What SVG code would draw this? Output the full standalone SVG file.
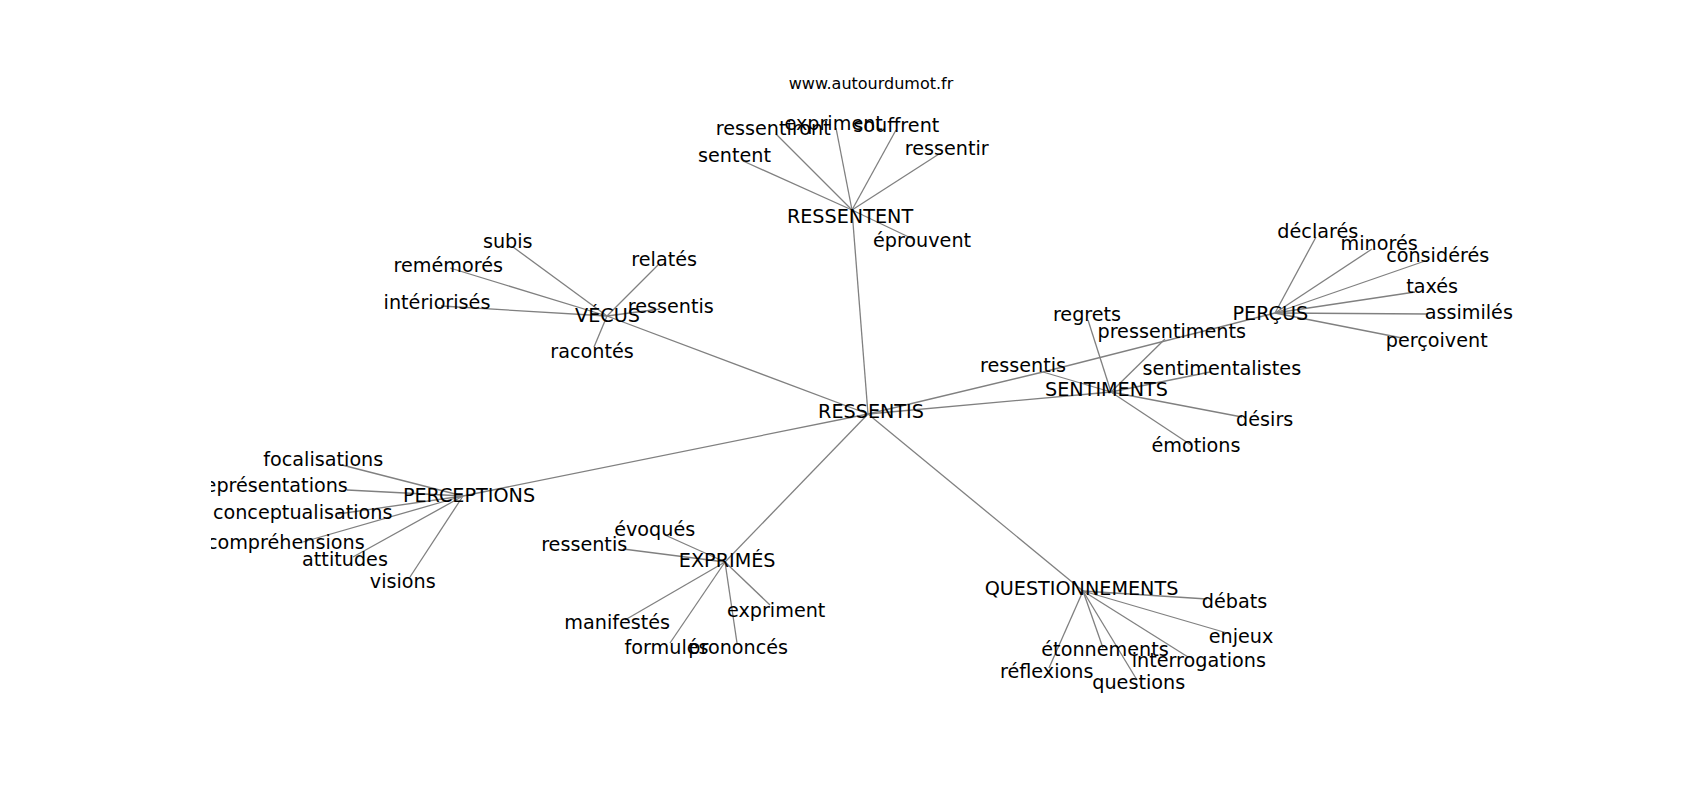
<svg xmlns="http://www.w3.org/2000/svg" width="1700" height="800" viewBox="0 0 1700 800">
<style>
.e{stroke:#808080;stroke-width:1.3;fill:none}
.t{font-family:"DejaVu Sans","Liberation Sans",sans-serif;font-size:19.2px;fill:#000;text-anchor:middle}
.ti{font-family:"DejaVu Sans","Liberation Sans",sans-serif;font-size:16px;fill:#000;text-anchor:middle}
</style>
<defs><clipPath id="ax"><rect x="211" y="0" width="1489" height="800"/></clipPath></defs>
<rect width="1700" height="800" fill="#fff"/>
<text class="ti" x="871" y="89">www.autourdumot.fr</text>
<g id="connectors">
<line class="e" x1="868" y1="414" x2="852" y2="210"/>
<line class="e" x1="868" y1="414" x2="607" y2="316"/>
<line class="e" x1="868" y1="414" x2="463" y2="496"/>
<line class="e" x1="868" y1="414" x2="725" y2="562"/>
<line class="e" x1="868" y1="414" x2="1083" y2="591"/>
<line class="e" x1="868" y1="414" x2="1111" y2="392"/>
<line class="e" x1="868" y1="414" x2="1043" y2="372"/>
<line class="e" x1="852" y1="210" x2="743" y2="161"/>
<line class="e" x1="852" y1="210" x2="776" y2="134"/>
<line class="e" x1="852" y1="210" x2="836" y2="128"/>
<line class="e" x1="852" y1="210" x2="896" y2="130"/>
<line class="e" x1="852" y1="210" x2="939" y2="154"/>
<line class="e" x1="852" y1="210" x2="915" y2="240"/>
<line class="e" x1="607" y1="316" x2="513" y2="247"/>
<line class="e" x1="607" y1="316" x2="450" y2="268"/>
<line class="e" x1="607" y1="316" x2="441" y2="306"/>
<line class="e" x1="607" y1="316" x2="594" y2="347"/>
<line class="e" x1="607" y1="316" x2="658" y2="265"/>
<line class="e" x1="607" y1="316" x2="660" y2="309"/>
<line class="e" x1="463" y1="496" x2="342" y2="465"/>
<line class="e" x1="463" y1="496" x2="347" y2="490"/>
<line class="e" x1="463" y1="496" x2="338" y2="514"/>
<line class="e" x1="463" y1="496" x2="303" y2="542"/>
<line class="e" x1="463" y1="496" x2="353" y2="557"/>
<line class="e" x1="463" y1="496" x2="410" y2="577"/>
<line class="e" x1="1111" y1="392" x2="1088" y2="320"/>
<line class="e" x1="1111" y1="392" x2="1165" y2="339"/>
<line class="e" x1="1111" y1="392" x2="1043" y2="372"/>
<line class="e" x1="1111" y1="392" x2="1210" y2="372"/>
<line class="e" x1="1111" y1="392" x2="1242" y2="417"/>
<line class="e" x1="1111" y1="392" x2="1191" y2="445"/>
<line class="e" x1="1275" y1="313" x2="1043" y2="372"/>
<line class="e" x1="1275" y1="313" x2="1316" y2="237"/>
<line class="e" x1="1275" y1="313" x2="1372" y2="249"/>
<line class="e" x1="1275" y1="313" x2="1425" y2="261"/>
<line class="e" x1="1275" y1="313" x2="1415" y2="292"/>
<line class="e" x1="1275" y1="313" x2="1428" y2="314"/>
<line class="e" x1="1275" y1="313" x2="1402" y2="338"/>
<line class="e" x1="725" y1="562" x2="665" y2="535"/>
<line class="e" x1="725" y1="562" x2="623" y2="549"/>
<line class="e" x1="725" y1="562" x2="625" y2="620"/>
<line class="e" x1="725" y1="562" x2="670" y2="643"/>
<line class="e" x1="725" y1="562" x2="737" y2="643"/>
<line class="e" x1="725" y1="562" x2="770" y2="605"/>
<line class="e" x1="1083" y1="591" x2="1207" y2="599"/>
<line class="e" x1="1083" y1="591" x2="1227" y2="633"/>
<line class="e" x1="1083" y1="591" x2="1188" y2="657"/>
<line class="e" x1="1083" y1="591" x2="1103" y2="648"/>
<line class="e" x1="1083" y1="591" x2="1049" y2="668"/>
<line class="e" x1="1083" y1="591" x2="1137" y2="680"/>
</g>
<g id="n-ressentis"><text class="t" x="871" y="418">RESSENTIS</text></g>
<g id="n-ressentent"><text class="t" x="850" y="222.5">RESSENTENT</text></g>
<g id="n-sentent"><text class="t" x="734.5" y="161.7">sentent</text></g>
<g id="n-ressentiront"><text class="t" x="773.3" y="135">ressentiront</text></g>
<g id="n-expriment-r"><text class="t" x="833.7" y="130">expriment</text></g>
<g id="n-souffrent"><text class="t" x="896.3" y="131.7">souffrent</text></g>
<g id="n-ressentir"><text class="t" x="946.7" y="155">ressentir</text></g>
<g id="n-eprouvent"><text class="t" x="922" y="246.7">éprouvent</text></g>
<g id="n-vecus"><text class="t" x="607.5" y="322">VÉCUS</text></g>
<g id="n-subis"><text class="t" x="507.8" y="248.3">subis</text></g>
<g id="n-rememores"><text class="t" x="448.3" y="272.3">remémorés</text></g>
<g id="n-interiorises"><text class="t" x="437" y="309">intériorisés</text></g>
<g id="n-racontes"><text class="t" x="592" y="358.3">racontés</text></g>
<g id="n-relates"><text class="t" x="664.2" y="266">relatés</text></g>
<g id="n-ressentis-v"><text class="t" x="670.8" y="312.7">ressentis</text></g>
<g id="n-perceptions"><text class="t" x="469" y="501.7">PERCEPTIONS</text></g>
<g id="n-focalisations"><text class="t" x="323.3" y="466">focalisations</text></g>
<g id="n-representations" clip-path="url(#ax)"><text class="t" x="272.5" y="491.7">représentations</text></g>
<g id="n-conceptualisations"><text class="t" x="302.7" y="519.3">conceptualisations</text></g>
<g id="n-comprehensions" clip-path="url(#ax)"><text class="t" x="285.8" y="549">compréhensions</text></g>
<g id="n-attitudes"><text class="t" x="345" y="565.7">attitudes</text></g>
<g id="n-visions"><text class="t" x="402.8" y="588.3">visions</text></g>
<g id="n-sentiments"><text class="t" x="1106.5" y="395.7">SENTIMENTS</text></g>
<g id="n-regrets"><text class="t" x="1087" y="320.7">regrets</text></g>
<g id="n-pressentiments"><text class="t" x="1171.7" y="337.7">pressentiments</text></g>
<g id="n-ressentis-s"><text class="t" x="1023" y="371.7">ressentis</text></g>
<g id="n-sentimentalistes"><text class="t" x="1221.8" y="375">sentimentalistes</text></g>
<g id="n-desirs"><text class="t" x="1264.7" y="426">désirs</text></g>
<g id="n-emotions"><text class="t" x="1196" y="452">émotions</text></g>
<g id="n-percus"><text class="t" x="1270.3" y="320">PERÇUS</text></g>
<g id="n-declares"><text class="t" x="1317.8" y="237.7">déclarés</text></g>
<g id="n-minores"><text class="t" x="1379.2" y="250">minorés</text></g>
<g id="n-consideres"><text class="t" x="1437.7" y="261.7">considérés</text></g>
<g id="n-taxes"><text class="t" x="1432.2" y="292.7">taxés</text></g>
<g id="n-assimiles"><text class="t" x="1468.8" y="319.3">assimilés</text></g>
<g id="n-percoivent"><text class="t" x="1436.7" y="346.7">perçoivent</text></g>
<g id="n-exprimes"><text class="t" x="727.2" y="566.7">EXPRIMÉS</text></g>
<g id="n-evoques"><text class="t" x="654.7" y="536">évoqués</text></g>
<g id="n-ressentis-e"><text class="t" x="584.2" y="550.7">ressentis</text></g>
<g id="n-manifestes"><text class="t" x="617.2" y="629.3">manifestés</text></g>
<g id="n-formules"><text class="t" x="666.5" y="654.3">formulés</text></g>
<g id="n-prononces"><text class="t" x="738.2" y="654.3">prononcés</text></g>
<g id="n-expriment-e"><text class="t" x="776.2" y="616.7">expriment</text></g>
<g id="n-questionnements"><text class="t" x="1081.5" y="595">QUESTIONNEMENTS</text></g>
<g id="n-debats"><text class="t" x="1234.5" y="608.3">débats</text></g>
<g id="n-enjeux"><text class="t" x="1241" y="642.7">enjeux</text></g>
<g id="n-interrogations"><text class="t" x="1198.8" y="667.3">interrogations</text></g>
<g id="n-etonnements"><text class="t" x="1105" y="656">étonnements</text></g>
<g id="n-reflexions"><text class="t" x="1046.7" y="678.3">réflexions</text></g>
<g id="n-questions"><text class="t" x="1138.7" y="689.3">questions</text></g>
</svg>
